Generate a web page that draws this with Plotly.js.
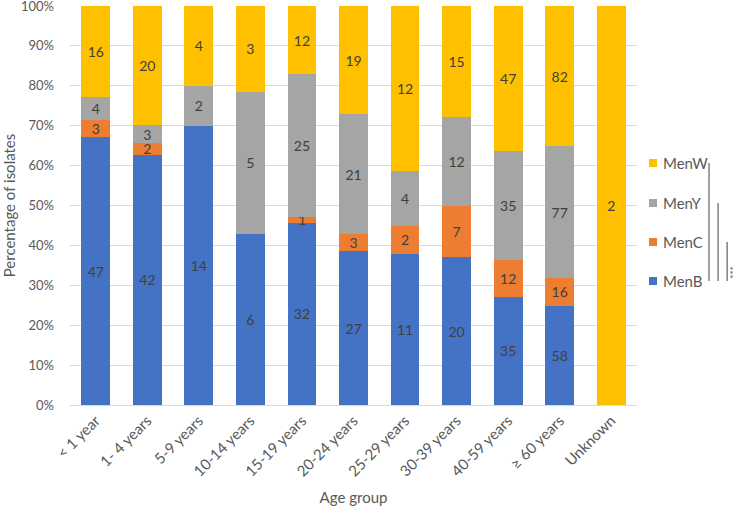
<!DOCTYPE html>
<html>
<head>
<meta charset="utf-8">
<script src="https://cdn.plot.ly/plotly-3.0.1.min.js"></script>
<style>
  html, body { margin: 0; padding: 0; background: #fff; }
  #chart { width: 735px; height: 506px; }
</style>
</head>
<body>
<div id="chart"></div>
<script>
// Isolate counts per serogroup and age group
const ageGroups = ['< 1 year', '1- 4 years', '5-9 years', '10-14 years', '15-19 years',
                   '20-24 years', '25-29 years', '30-39 years', '40-59 years', '≥ 60 years', 'Unknown'];
const serogroups = ['MenB', 'MenC', 'MenY', 'MenW'];
const menB = [47, 42, 14, 6, 32, 27, 11, 20, 35, 58, 0];
const menC = [3, 2, 0, 0, 1, 3, 2, 7, 12, 16, 0];
const menY = [4, 3, 2, 5, 25, 21, 4, 12, 35, 77, 0];
const menW = [16, 20, 4, 3, 12, 19, 12, 15, 47, 82, 2];
const colors = ['#4472C4', '#ED7D31', '#A5A5A5', '#FFC000'];

const FONT = 'Lato, "Open Sans", sans-serif';
const LABEL_GREY = '#404040';
const AXIS_GREY = '#595959';

function series(name, values, color) {
  return {
    type: 'bar',
    name: name,
    x: ageGroups,
    y: values,
    marker: { color: color },
    text: values.map(v => (v > 0 ? String(v) : '')),
    textposition: 'inside',
    insidetextanchor: 'middle',
    textangle: 0,
    constraintext: 'none',
    textfont: { family: FONT, size: 14, color: LABEL_GREY },
    hoverinfo: 'skip',
    showlegend: false
  };
}

const counts = [menB, menC, menY, menW];
const data = serogroups.map((name, i) => series(name, counts[i], colors[i]));

// Legend column to the right of the plot (MenW on top), in paper units
const legendX = 1.0 + 12 / 567;
const legendY = [0.3108, 0.4085, 0.5063, 0.6065]; // MenB .. MenW
const swatch = 8 / 567;
const swatchH = 8 / 399;

const shapes = [];
const annotations = [];
serogroups.forEach((name, i) => {
  shapes.push({
    type: 'rect', xref: 'paper', yref: 'paper',
    x0: legendX, x1: legendX + swatch,
    y0: legendY[i] - swatchH / 2, y1: legendY[i] + swatchH / 2,
    fillcolor: colors[i], line: { width: 0 }
  });
  annotations.push({
    xref: 'paper', yref: 'paper',
    x: legendX + swatch + 4 / 567, y: legendY[i],
    xanchor: 'left', yanchor: 'middle',
    text: name, showarrow: false,
    font: { family: FONT, size: 15, color: AXIS_GREY }
  });
});

// Significance brackets joining MenB with each other serogroup
const bracketX = [1.127, 1.143, 1.159];
[3, 2, 1].forEach((top, k) => {
  shapes.push({
    type: 'line', xref: 'paper', yref: 'paper',
    x0: bracketX[k], x1: bracketX[k], y0: legendY[0], y1: legendY[top],
    line: { color: '#7f7f7f', width: 1.5 }
  });
});
annotations.push({
  xref: 'paper', yref: 'paper',
  x: 1.163, y: legendY[0],
  xanchor: 'center', yanchor: 'bottom',
  text: '***',
  textangle: 90,
  showarrow: false,
  font: { family: FONT, size: 10, color: '#404040' }
});

const layout = {
  width: 735,
  height: 506,
  margin: { l: 70, r: 98, t: 6, b: 101 },
  paper_bgcolor: '#ffffff',
  plot_bgcolor: '#ffffff',
  barmode: 'stack',
  barnorm: 'percent',
  bargap: 0.44,
  font: { family: FONT, size: 14, color: AXIS_GREY },
  showlegend: false,
  xaxis: {
    tickangle: -45,
    tickfont: { family: FONT, size: 15, color: AXIS_GREY },
    showline: true,
    linecolor: '#d9d9d9',
    linewidth: 1,
    ticks: '',
    title: { text: 'Age group', font: { family: FONT, size: 15, color: AXIS_GREY }, standoff: 14 },
    automargin: false
  },
  yaxis: {
    range: [0, 100],
    dtick: 10,
    ticksuffix: '%',
    tickfont: { family: FONT, size: 13, color: AXIS_GREY },
    ticklabelstandoff: 15,
    ticklabeloverflow: 'allow',
    showgrid: true,
    gridcolor: '#d9d9d9',
    gridwidth: 1,
    zeroline: false,
    showline: false,
    ticks: '',
    title: { text: 'Percentage of isolates', font: { family: FONT, size: 15, color: AXIS_GREY }, standoff: 4 },
    automargin: false
  },
  shapes: shapes,
  annotations: annotations
};

Plotly.newPlot('chart', data, layout, { displayModeBar: false, staticPlot: true });
</script>
</body>
</html>
